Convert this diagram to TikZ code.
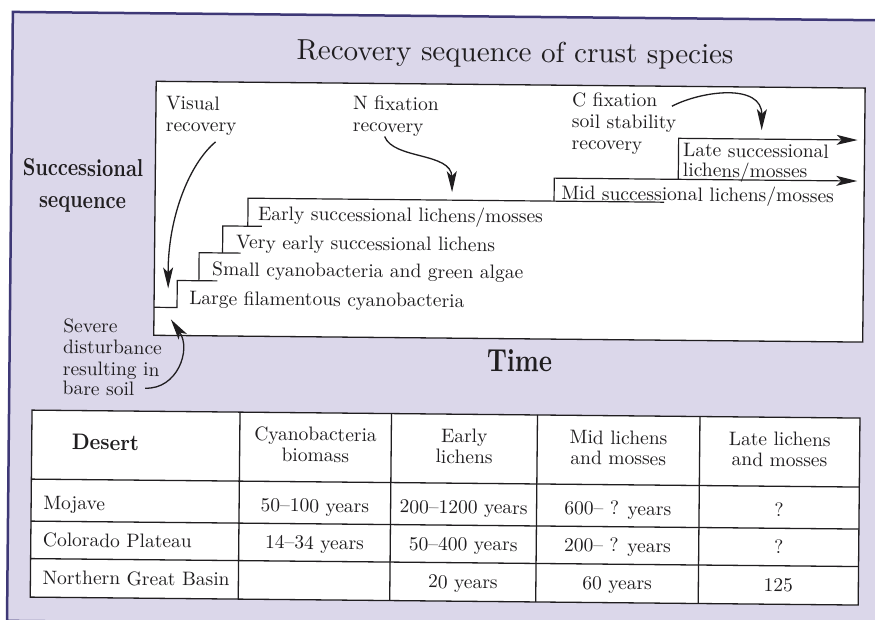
\documentclass[tikz,border=0pt]{standalone}
\usepackage{fontspec}
\setmainfont{lmroman10-regular.otf}[BoldFont=lmroman10-bold.otf]
\usepackage{graphicx}
\usetikzlibrary{arrows.meta}
\definecolor{lav}{RGB}{219,215,234}
\definecolor{framec}{RGB}{62,56,118}
\definecolor{ink}{RGB}{32,30,32}
\newcommand{\sqz}[2]{\scalebox{#1}[1]{#2}}
\begin{document}
\begin{tikzpicture}[x=1pt,y=-1pt,
  lbl/.style={inner sep=0pt, anchor=base west, text=ink, font=\fontsize{19.5}{22}\selectfont},
  tcell/.style={inner sep=0pt, anchor=base, text=ink, font=\fontsize{19.5}{22}\selectfont},
  bld/.style={inner sep=0pt, anchor=base, text=ink, font=\fontsize{24.5}{27}\selectfont\bfseries},
  ttl/.style={inner sep=0pt, anchor=base, text=ink, font=\fontsize{29}{32}\selectfont},
  stair/.style={draw=ink, line width=1.2pt},
  tipA/.style={-{Stealth[length=21pt,width=10pt,inset=5pt]}},
  arr/.style={draw=ink, line width=1.3pt, tipA},
  gridl/.style={draw=ink, line width=1.3pt}]
\useasboundingbox (0,0) rectangle (875,619);
\clip (0,0) rectangle (875,619);
\fill[white] (0,0) rectangle (875,619);
\begin{scope}[rotate around={-0.55:(437,310)}, transform shape]
% outer panel
\draw[draw=framec, line width=2.5pt, fill=lav] (10,16) rectangle (910,625);
% title
\node[ttl] (title) at (512.6,61) {Recovery sequence of crust species};
% chart box
\draw[draw=ink, line width=1.3pt, fill=white] (154,84) rectangle (863,338);
% staircase
\draw[stair] (154,310) -- (177,310) -- (177,283) -- (217,283);
\draw[stair] (198.6,283) -- (198.6,255) -- (240,255);
\draw[stair] (222,255) -- (222,228) -- (261,228);
\draw[stair] (247,228) -- (247,200) -- (663,200);
\draw[stair, tipA] (553,200) -- (553,177) -- (856,177);
\draw[stair, tipA] (677,177) -- (677,136) -- (856,136);
% stair labels
\node[lbl] (large) at (189,307) {Large filamentous cyanobacteria};
\node[lbl] (small) at (211.7,278) {Small cyanobacteria and green algae};
\node[lbl] (very) at (235.4,250.7) {Very early successional lichens};
\node[lbl] (early) at (257,222) {Early successional lichens/mosses};
\node[lbl] (mid) at (560,198.5) {Mid successional lichens/mosses};
\node[lbl] (late1) at (681.5,154.3) {Late successional};
\node[lbl] (late2) at (681.5,174.3) {lichens/mosses};
% recovery labels
\node[lbl] (vis1) at (164,112.3) {Visual};
\node[lbl] (vis2) at (164,134) {recovery};
\node[lbl] (nfx1) at (351,110.5) {N fixation};
\node[lbl] (nfx2) at (351,132.5) {recovery};
\node[lbl] (cfx1) at (570,104.8) {C fixation};
\node[lbl] (cfx2) at (570,126.5) {soil stability};
\node[lbl] (cfx3) at (570,148.2) {recovery};
% left labels
\node[bld] (succ1) at (81.7,179.4) {\sqz{0.8}{Successional}};
\node[bld] (succ2) at (81.5,211.4) {\sqz{0.8}{sequence}};
\node[lbl] (sev1) at (63.3,335.8) {Severe};
\node[lbl] (sev2) at (63.3,357.1) {disturbance};
\node[lbl] (sev3) at (63.3,378.8) {resulting in};
\node[lbl] (sev4) at (63.3,398.4) {bare soil};
% time
\node[inner sep=0pt, anchor=base, text=ink, font=\fontsize{32}{34}\selectfont\bfseries] (time) at (520,371) {\sqz{0.78}{Time}};
% curved arrows
\coordinate (visA) at (214,144);
\coordinate (visB) at (168,291);
\draw[arr] (visA) .. controls (188,166) and (167,220) .. (visB);
\coordinate (nfxA) at (383,137);
\coordinate (nfxB) at (451,192);
\draw[arr] (nfxA) .. controls (392,160) and (450,152) .. (nfxB);
\coordinate (cfxA) at (670,104);
\coordinate (cfxB) at (760,127);
\draw[arr] (cfxA) .. controls (700,88) and (760,80) .. (cfxB);
\coordinate (sevA) at (146,391);
\coordinate (sevB) at (171,322);
\draw[arr] (sevA) .. controls (178,392) and (192,352) .. (sevB);
% table
\draw[gridl, fill=white] (33,414) rectangle (861,601);
\draw[gridl] (33,483) -- (861,483);
\draw[gridl] (33,525) -- (861,525);
\draw[gridl] (33,562.5) -- (861,562.5);
\draw[gridl] (241,414) -- (241,601);
\draw[gridl] (392.5,414) -- (392.5,601);
\draw[gridl] (538.5,414) -- (538.5,601);
\draw[gridl] (701,414) -- (701,601);
% header
\node[inner sep=0pt, anchor=base west, text=ink, font=\fontsize{22.5}{24}\selectfont\bfseries] (hdes) at (73,453.2) {\sqz{0.9}{Desert}};
\node[tcell] (h1a) at (316.75,442) {Cyanobacteria};
\node[tcell] (h1b) at (316.75,463) {biomass};
\node[tcell] (h2a) at (465.5,442.5) {Early};
\node[tcell] (h2b) at (465.5,463) {lichens};
\node[tcell] (h3a) at (619.75,442.5) {Mid lichens};
\node[tcell] (h3b) at (619.75,463) {and mosses};
\node[tcell] (h4a) at (781,442.5) {Late lichens};
\node[tcell] (h4b) at (781,463) {and mosses};
% rows
\node[lbl] (r1) at (45,513.3) {Mojave};
\node[tcell] (r1c1) at (316.75,513.3) {50--100 years};
\node[tcell] (r1c2) at (465.5,513.3) {200--1200 years};
\node[tcell] (r1c3) at (619.75,513.3) {600-- ? years};
\node[tcell] (r1c4) at (781,513.3) {?};
\node[lbl] (r2) at (45,550.3) {Colorado Plateau};
\node[tcell] (r2c1) at (316.75,550.3) {14--34 years};
\node[tcell] (r2c2) at (465.5,550.3) {50--400 years};
\node[tcell] (r2c3) at (619.75,550.3) {200-- ? years};
\node[tcell] (r2c4) at (781,550.3) {?};
\node[lbl] (r3) at (45,588) {Northern Great Basin};
\node[tcell] (r3c2) at (465.5,588) {20 years};
\node[tcell] (r3c3) at (619.75,588) {60 years};
\node[tcell] (r3c4) at (781,588) {125};
\end{scope}
\end{tikzpicture}
\end{document}
